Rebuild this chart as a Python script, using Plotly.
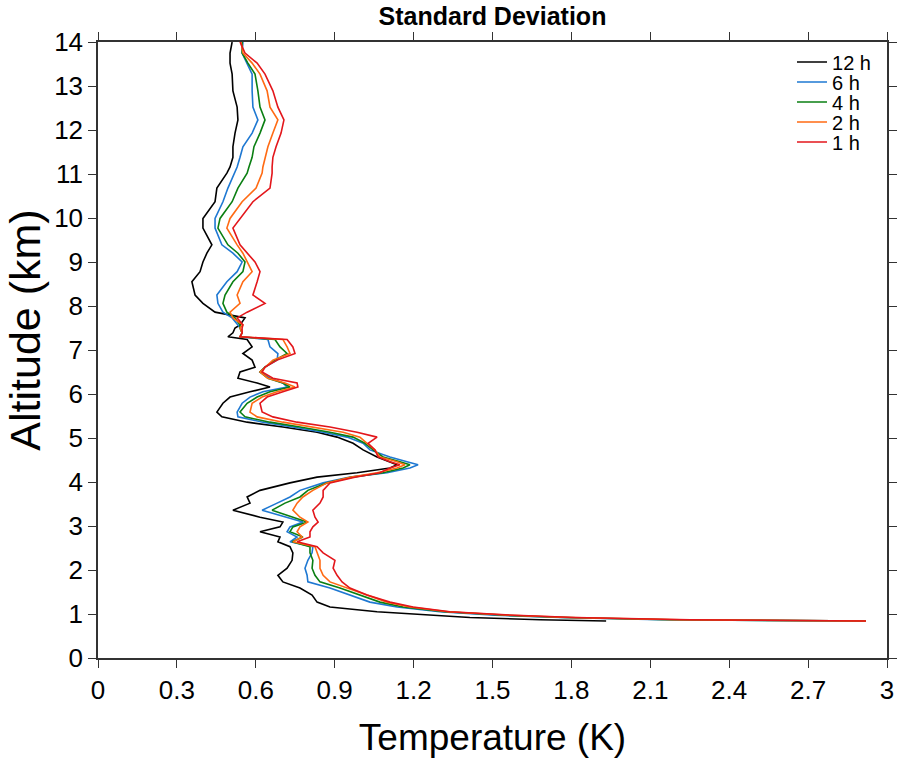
import plotly.graph_objects as go

# Altitude grid (km), shared by all profiles
alt_km = [0.84, 0.87, 0.92, 0.97, 1.05, 1.16, 1.27, 1.43, 1.59, 1.73,
          1.88, 2.04, 2.22, 2.39, 2.53, 2.64, 2.75, 2.87, 2.98, 3.09,
          3.20, 3.36, 3.52, 3.66, 3.81, 3.98, 4.11, 4.21, 4.32, 4.39,
          4.46, 4.57, 4.73, 4.88, 5.02, 5.13, 5.25, 5.36, 5.48, 5.59,
          5.79, 5.93, 6.05, 6.16, 6.25, 6.36, 6.50, 6.61, 6.77, 6.92,
          7.07, 7.24, 7.30, 7.39, 7.50, 7.57, 7.73, 7.86, 8.06, 8.25,
          8.55, 8.78, 9.00, 9.20, 9.39, 9.77, 9.99, 10.37, 10.68, 11.02,
          11.16, 11.38, 11.62, 11.93, 12.23, 12.52, 12.89, 13.27, 13.52, 13.75,
          14.0]

# Standard deviation of temperature (K) for each averaging window
sd_12h = [1.932, 1.681, 1.414, 1.262, 1.061, 0.882, 0.833, 0.814, 0.768, 0.703,
          0.684, 0.719, 0.738, 0.741, 0.730, 0.684, 0.692, 0.616, 0.692, 0.703,
          0.616, 0.513, 0.578, 0.567, 0.616, 0.730, 0.833, 0.985, 1.110, 1.137,
          1.110, 1.061, 1.008, 0.970, 0.909, 0.833, 0.703, 0.567, 0.471, 0.452,
          0.475, 0.502, 0.578, 0.654, 0.605, 0.532, 0.540, 0.597, 0.586, 0.551,
          0.586, 0.567, 0.494, 0.513, 0.521, 0.540, 0.559, 0.445, 0.399, 0.369,
          0.357, 0.388, 0.399, 0.414, 0.433, 0.399, 0.399, 0.445, 0.452, 0.490,
          0.502, 0.513, 0.513, 0.521, 0.532, 0.529, 0.513, 0.510, 0.502, 0.502,
          0.510]

sd_6h = [2.920, 2.137, 1.757, 1.510, 1.300, 1.137, 1.034, 0.958, 0.882, 0.798,
         0.795, 0.787, 0.798, 0.814, 0.817, 0.730, 0.757, 0.719, 0.730, 0.779,
         0.719, 0.624, 0.681, 0.730, 0.768, 0.856, 0.958, 1.099, 1.186, 1.217,
         1.175, 1.110, 1.034, 1.008, 0.947, 0.856, 0.741, 0.627, 0.532, 0.529,
         0.548, 0.578, 0.627, 0.719, 0.703, 0.654, 0.616, 0.635, 0.681, 0.684,
         0.654, 0.646, 0.540, 0.548, 0.540, 0.532, 0.510, 0.475, 0.456, 0.452,
         0.490, 0.529, 0.548, 0.513, 0.471, 0.445, 0.445, 0.475, 0.494, 0.517,
         0.529, 0.540, 0.551, 0.586, 0.608, 0.589, 0.586, 0.586, 0.567, 0.548,
         0.551]

sd_4h = [2.920, 2.175, 1.776, 1.548, 1.319, 1.160, 1.072, 0.996, 0.920, 0.844,
         0.825, 0.814, 0.817, 0.806, 0.806, 0.738, 0.779, 0.730, 0.741, 0.795,
         0.741, 0.662, 0.711, 0.768, 0.798, 0.871, 0.966, 1.084, 1.160, 1.186,
         1.148, 1.084, 1.046, 1.015, 0.970, 0.882, 0.768, 0.654, 0.559, 0.540,
         0.567, 0.605, 0.654, 0.730, 0.703, 0.646, 0.616, 0.635, 0.673, 0.719,
         0.692, 0.673, 0.540, 0.548, 0.540, 0.540, 0.521, 0.490, 0.475, 0.483,
         0.513, 0.551, 0.559, 0.532, 0.494, 0.456, 0.464, 0.510, 0.532, 0.567,
         0.574, 0.586, 0.593, 0.616, 0.635, 0.616, 0.608, 0.597, 0.570, 0.548,
         0.548]

sd_2h = [2.920, 2.213, 1.795, 1.567, 1.331, 1.186, 1.099, 1.023, 0.947, 0.882,
         0.856, 0.844, 0.844, 0.833, 0.825, 0.741, 0.776, 0.757, 0.768, 0.798,
         0.768, 0.741, 0.757, 0.779, 0.817, 0.871, 0.958, 1.061, 1.137, 1.167,
         1.137, 1.072, 1.053, 1.023, 0.996, 0.932, 0.817, 0.703, 0.605, 0.578,
         0.586, 0.624, 0.681, 0.749, 0.711, 0.646, 0.616, 0.635, 0.665, 0.730,
         0.719, 0.703, 0.540, 0.548, 0.540, 0.551, 0.513, 0.502, 0.540, 0.529,
         0.551, 0.586, 0.567, 0.551, 0.529, 0.490, 0.502, 0.548, 0.601, 0.624,
         0.627, 0.635, 0.646, 0.665, 0.684, 0.654, 0.643, 0.616, 0.586, 0.551,
         0.544]

sd_1h = [2.920, 2.251, 1.814, 1.586, 1.338, 1.198, 1.110, 1.023, 0.958, 0.928,
         0.909, 0.894, 0.901, 0.856, 0.833, 0.757, 0.806, 0.806, 0.817, 0.837,
         0.825, 0.817, 0.844, 0.856, 0.856, 0.882, 0.977, 1.072, 1.110, 1.148,
         1.110, 1.065, 1.053, 1.027, 1.061, 0.985, 0.882, 0.757, 0.665, 0.624,
         0.616, 0.643, 0.703, 0.760, 0.757, 0.665, 0.624, 0.635, 0.681, 0.749,
         0.741, 0.719, 0.540, 0.548, 0.548, 0.551, 0.529, 0.567, 0.635, 0.589,
         0.605, 0.616, 0.597, 0.567, 0.540, 0.513, 0.540, 0.589, 0.654, 0.662,
         0.662, 0.665, 0.677, 0.696, 0.707, 0.684, 0.665, 0.635, 0.605, 0.559,
         0.540]

series_names = ["12 h", "6 h", "4 h", "2 h", "1 h"]
series_values = [sd_12h, sd_6h, sd_4h, sd_2h, sd_1h]
series_colors = ["#000000", "#1E78D2", "#0A7F12", "#FF6A13", "#E3161B"]

x_tickvals = [0, 0.3, 0.6, 0.9, 1.2, 1.5, 1.8, 2.1, 2.4, 2.7, 3]
x_ticktext = ["0", "0.3", "0.6", "0.9", "1.2", "1.5", "1.8", "2.1", "2.4", "2.7", "3"]
y_tickvals = list(range(0, 15))

FONT = "Liberation Sans, Arial, Helvetica, sans-serif"

# one legend per series so the rows can be packed tightly like the original
legend_ids = ["legend", "legend2", "legend3", "legend4", "legend5"]
legend_rows_y = [0.9675, 0.935, 0.9026, 0.8701, 0.8377]

fig = go.Figure()
for name, vals, col, lid in zip(series_names, series_values, series_colors, legend_ids):
    fig.add_trace(go.Scatter(x=vals, y=alt_km, mode="lines", name=name,
                             legend=lid, line=dict(color=col, width=1.6)))

axis_common = dict(showline=True, mirror="ticks", ticks="outside", ticklen=8,
                   tickwidth=1.3, tickcolor="#333333", linecolor="#333333",
                   linewidth=1.5, showgrid=False, zeroline=False, automargin=False,
                   tickfont=dict(family=FONT, size=26, color="#000000"))

legend_layouts = {}
for lid, ly in zip(legend_ids, legend_rows_y):
    legend_layouts[lid] = dict(x=0.8796, y=ly, xanchor="left", yanchor="middle",
                               bgcolor="rgba(0,0,0,0)", borderwidth=0,
                               font=dict(family=FONT, size=20, color="#000000"),
                               itemwidth=30)

fig.update_layout(
    width=898, height=760,
    margin=dict(l=98, r=11, t=42, b=102),
    paper_bgcolor="white", plot_bgcolor="white",
    title=dict(text="<b>Standard Deviation</b>", x=0.5, xref="paper", xanchor="center",
               y=0.979, yanchor="middle",
               font=dict(family=FONT, size=25, color="#000000")),
    xaxis=dict(range=[0, 3], tickvals=x_tickvals, ticktext=x_ticktext,
               title=dict(text="Temperature (K)", standoff=20,
                          font=dict(family=FONT, size=37, color="#000000")),
               **axis_common),
    yaxis=dict(range=[0, 14], tickvals=y_tickvals, **axis_common),
    annotations=[dict(text="Altitude (km)", textangle=-90, showarrow=False,
                      xref="paper", yref="paper", x=-0.092, y=0.532,
                      xanchor="center", yanchor="middle",
                      font=dict(family=FONT, size=43, color="#000000"))],
    showlegend=True,
    **legend_layouts,
)

fig.write_html("out.html", config={"displayModeBar": False},
               post_script="document.body.style.margin='0';")
